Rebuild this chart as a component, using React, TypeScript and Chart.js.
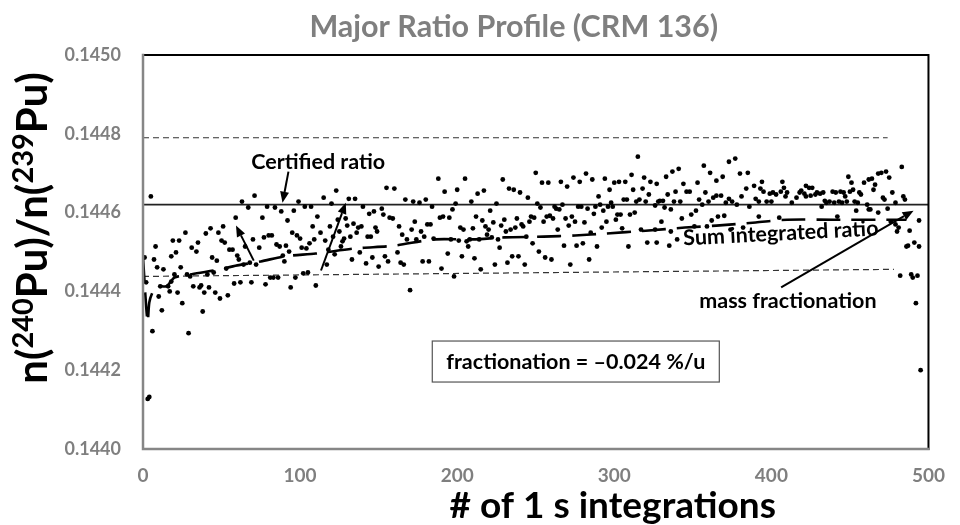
import { useEffect, useRef } from "react";
import { Chart, registerables } from "chart.js";

Chart.register(...registerables);

// ---- scatter data: # of 1 s integration vs n(240Pu)/n(239Pu) ----
const pointX: number[] = [
  1, 2, 3, 4, 5, 6, 7, 8, 9, 10, 11, 12, 13, 16, 17, 18, 18, 19, 20, 21, 22, 23, 24, 25, 27, 28, 29, 30, 31, 32,
  34, 35, 36, 37, 38, 39, 40, 41, 42, 43, 44, 45, 46, 47, 48, 49, 50, 51, 52, 53, 54, 55, 57, 58, 59, 60, 61, 62,
  63, 64, 65, 67, 68, 69, 70, 71, 72, 74, 76, 77, 78, 79, 80, 81, 82, 83, 84, 85, 86, 87, 88, 89, 90, 91, 92, 93,
  94, 95, 96, 97, 98, 99, 100, 101, 102, 103, 104, 105, 106, 107, 108, 109, 110, 111, 113, 115, 116, 117, 118,
  119, 120, 121, 122, 123, 124, 125, 126, 127, 128, 129, 130, 131, 132, 133, 134, 135, 136, 137, 138, 139, 140,
  142, 143, 144, 145, 146, 147, 148, 149, 150, 152, 153, 154, 155, 156, 157, 159, 160, 162, 163, 164, 165, 166,
  167, 168, 170, 171, 172, 173, 174, 176, 177, 178, 179, 180, 181, 182, 183, 184, 185, 188, 189, 190, 191, 192,
  194, 195, 196, 197, 198, 199, 200, 201, 202, 203, 204, 205, 206, 207, 208, 209, 210, 211, 212, 213, 214, 215,
  216, 217, 218, 219, 220, 221, 222, 223, 224, 225, 226, 227, 228, 229, 230, 231, 232, 233, 234, 235, 236, 237,
  238, 239, 240, 241, 242, 243, 244, 245, 246, 247, 248, 249, 250, 251, 252, 253, 254, 255, 256, 257, 258, 259,
  260, 261, 262, 263, 264, 265, 266, 267, 268, 269, 270, 271, 272, 273, 274, 275, 276, 277, 278, 279, 280, 281,
  282, 283, 284, 285, 286, 287, 288, 289, 290, 291, 292, 293, 294, 295, 296, 297, 298, 299, 300, 301, 302, 303,
  304, 305, 306, 307, 308, 309, 310, 311, 312, 313, 314, 315, 316, 317, 318, 319, 320, 321, 322, 323, 326, 326,
  327, 327, 328, 329, 330, 331, 332, 333, 334, 335, 336, 336, 337, 338, 339, 340, 341, 342, 343, 344, 346, 348,
  349, 351, 352, 353, 354, 356, 357, 358, 359, 360, 361, 362, 363, 365, 365, 366, 368, 369, 370, 371, 373, 373,
  374, 375, 377, 378, 380, 381, 382, 384, 385, 386, 389, 390, 392, 392, 393, 394, 395, 397, 399, 400, 401, 403,
  405, 406, 407, 408, 409, 410, 413, 416, 418, 419, 421, 422, 422, 424, 425, 426, 428, 429, 431, 432, 433, 434,
  435, 437, 439, 440, 441, 442, 443, 444, 445, 446, 447, 448, 449, 450, 451, 452, 453, 454, 455, 456, 457, 459,
  461, 462, 462, 463, 464, 465, 466, 468, 468, 470, 471, 472, 473, 474, 475, 476, 477, 479, 479, 480, 481, 482,
  483, 484, 485, 486, 487, 488, 489, 490, 491, 492, 493, 494, 494, 495,
];

const pointY: number[] = [
  0.144486, 0.144423, 0.144127, 0.144132, 0.144641, 0.144299, 0.144481, 0.144514, 0.144461, 0.144387, 0.144413,
  0.144352, 0.144456, 0.144413, 0.1444, 0.144489, 0.144425, 0.144529, 0.144443, 0.144499, 0.144397, 0.144529,
  0.144461, 0.14437, 0.144549, 0.144443, 0.144294, 0.144438, 0.144511, 0.144413,
  0.144501, 0.144524, 0.14441, 0.144415, 0.144349, 0.144397, 0.144547, 0.144443, 0.14441, 0.14456, 0.144486,
  0.144448, 0.144397, 0.144478, 0.144549, 0.144382, 0.144529, 0.144565, 0.144524, 0.144458, 0.14439, 0.144506,
  0.144506, 0.14442, 0.144587, 0.144491, 0.144481, 0.144423,
  0.144628, 0.144468, 0.144514, 0.144613, 0.144473, 0.144423, 0.144532, 0.144643, 0.144468, 0.144511, 0.144587,
  0.144537, 0.144418, 0.144615, 0.144542, 0.144435, 0.144542, 0.144435, 0.144613, 0.144519, 0.144435, 0.144514,
  0.144603, 0.144491, 0.144476, 0.144516, 0.14458, 0.144501,
  0.14441, 0.144549, 0.144605, 0.144435, 0.144542, 0.144628, 0.144534, 0.144511, 0.144446, 0.144615, 0.144509,
  0.144448, 0.144522, 0.144615, 0.144565, 0.144532, 0.144415, 0.14459, 0.144549, 0.144638, 0.144529, 0.144468,
  0.144506,
  0.144565, 0.144623, 0.144539, 0.144494, 0.144656, 0.144582, 0.144552, 0.144514, 0.144527, 0.144534, 0.144585,
  0.144567, 0.144635, 0.144539, 0.144481, 0.144572, 0.144635, 0.144549, 0.144562, 0.144499, 0.144565, 0.144615,
  0.144471, 0.144539, 0.144597, 0.144539, 0.144486, 0.144603, 0.144562, 0.144552, 0.144463, 0.14461, 0.144595,
  0.144489, 0.144663, 0.144476, 0.144587, 0.144585, 0.144661, 0.144499, 0.144565, 0.144473, 0.144544, 0.144468,
  0.144633, 0.144532, 0.144403, 0.144557, 0.144628, 0.144577, 0.144532, 0.144625, 0.144552, 0.144476, 0.144539,
  0.144633, 0.14457, 0.144476, 0.14457, 0.144615, 0.144534, 0.144686, 0.144587, 0.144458, 0.14459, 0.144653,
  0.144496, 0.144587, 0.144532, 0.144608, 0.144438, 0.144623, 0.144658, 0.144529, 0.144562, 0.144489, 0.144557,
  0.144686, 0.144527, 0.144514, 0.144532, 0.144628, 0.14456, 0.144484, 0.14459, 0.144648, 0.144532, 0.144456,
  0.14458, 0.144656, 0.144565, 0.144544, 0.144557, 0.144605, 0.144537, 0.144575, 0.144468, 0.144623, 0.144532,
  0.144511, 0.144567, 0.144684, 0.144582, 0.144552, 0.144473, 0.144661, 0.144557, 0.144489, 0.144658, 0.144562,
  0.144585, 0.144489, 0.144651, 0.14457, 0.144565, 0.144468, 0.144539, 0.144638, 0.144577, 0.14459, 0.144522,
  0.144587, 0.144701, 0.144623, 0.144501, 0.144613, 0.144676, 0.144577, 0.144486, 0.14459, 0.144676, 0.144592,
  0.144481, 0.144585, 0.144615, 0.14461, 0.144557, 0.144608, 0.144678, 0.14462, 0.144516, 0.144585, 0.144666,
  0.144567, 0.144468, 0.14459, 0.144689, 0.144577, 0.144516, 0.144615, 0.144678, 0.144615, 0.144522, 0.144575,
  0.144699, 0.14461, 0.144481, 0.144549, 0.144684, 0.144597, 0.144615, 0.144514, 0.144641, 0.14462, 0.144562,
  0.144605, 0.144686, 0.144577, 0.144615, 0.144658, 0.144625, 0.144615, 0.144676, 0.144582, 0.144595, 0.144678,
  0.144595, 0.14456, 0.144633, 0.144678, 0.144633, 0.144514, 0.144595, 0.144696, 0.144658, 0.1446, 0.144628,
  0.144742, 0.144633, 0.144557, 0.144661, 0.144689, 0.144628, 0.144524, 0.144646, 0.144678, 0.144618, 0.144557,
  0.144524, 0.144673, 0.144628, 0.14463, 0.144577, 0.14463, 0.144613, 0.144691, 0.144646, 0.144516, 0.144608,
  0.144552, 0.144704, 0.144628, 0.144653, 0.144532, 0.144711, 0.144628, 0.144585, 0.144673, 0.144653, 0.144653,
  0.144595, 0.144565, 0.144605, 0.144676, 0.144633, 0.14462, 0.144719, 0.144651, 0.144565, 0.144628, 0.144701,
  0.14458, 0.144638, 0.144681, 0.144643, 0.14459, 0.144643, 0.144691, 0.144592, 0.144625, 0.144729, 0.144635,
  0.144557, 0.144628, 0.144737, 0.14462, 0.144699, 0.144641, 0.144562, 0.144661, 0.144701, 0.144615, 0.144668,
  0.144635, 0.144628, 0.14459, 0.144661, 0.144678, 0.144653, 0.144628, 0.144648, 0.144628, 0.144651, 0.144646,
  0.144587, 0.144653, 0.144678, 0.144663, 0.144641, 0.144651, 0.144625, 0.144638, 0.144651, 0.144656, 0.144648,
  0.144668, 0.144641, 0.144663, 0.144643, 0.144663, 0.144646, 0.144651, 0.144648, 0.144615, 0.144651, 0.14463,
  0.144625, 0.144628, 0.144653, 0.144625, 0.144651, 0.14459, 0.144628, 0.144653, 0.144625, 0.144651, 0.144641,
  0.144628, 0.144691, 0.144653, 0.144676, 0.144658, 0.144628, 0.144605, 0.144625, 0.144651, 0.144646, 0.144676,
  0.14462, 0.144684, 0.144608, 0.144608, 0.144686, 0.144658, 0.144671, 0.144699, 0.1446, 0.144701, 0.144638,
  0.144633, 0.144704, 0.14461, 0.144689, 0.144577, 0.144651, 0.144625, 0.14457, 0.144552, 0.144562, 0.14444,
  0.144716, 0.144641, 0.144633, 0.144514, 0.144516, 0.144554, 0.144443, 0.144435, 0.144524, 0.14437, 0.14444,
  0.144514, 0.14458, 0.1442,
];

// ---- "Sum integrated ratio" running line ----
const sumX: number[] = [0, 1, 2, 3, 4, 6, 9, 15, 20, 30, 45, 60, 75, 90, 110, 135, 160, 185, 210, 230, 255, 275, 295, 320, 345, 365, 390, 410, 440, 470, 486];
const sumY: number[] = [
  0.144486, 0.144423, 0.144362, 0.144322, 0.144372, 0.144397, 0.144413, 0.144413, 0.144435, 0.144443, 0.144453,
  0.144466, 0.144476, 0.144489, 0.144496, 0.144509, 0.144516, 0.144532, 0.144532, 0.144537, 0.144539, 0.144542,
  0.144547, 0.144554, 0.144562, 0.144567, 0.144575, 0.144582, 0.144582, 0.144582, 0.144582,
];

// ---- reference lines ----
const certifiedX: number[] = [0, 500];
const certifiedY: number[] = [0.14462, 0.14462];
const upperX: number[] = [0, 474];
const upperY: number[] = [0.14479, 0.14479];
const lowerX: number[] = [0, 478];
const lowerY: number[] = [0.144438, 0.144456];

// ---- axes ----
const xTicks: number[] = [0, 100, 200, 300, 400, 500];
const yTicks: number[] = [0.144, 0.1442, 0.1444, 0.1446, 0.1448, 0.145];

// ---- annotations (data units) ----
const arrows = [
  { x0: 92.6, y0: 0.144704, x1: 88.8, y1: 0.144625 },
  { x0: 70.5, y0: 0.144478, x1: 59.2, y1: 0.144567 },
  { x0: 113.3, y0: 0.144453, x1: 129.1, y1: 0.144625 },
  { x0: 406.2, y0: 0.14441, x1: 490.5, y1: 0.144605 },
];
const notes = [
  { text: "Certified ratio", x: 111.5, y: 0.144727, angle: 0 },
  { text: "Sum integrated ratio", x: 406, y: 0.144547, angle: -2.9 },
  { text: "mass fractionation", x: 410.5, y: 0.144375, angle: 0 },
];
const boxNote = { text: "fractionation = \u20130.024 %/u", x: 275.5, y: 0.144222 };

const TITLE = "Major Ratio Profile (CRM 136)";
const X_TITLE = "# of 1 s integrations";
const FONT = "Lato, 'Open Sans', 'DejaVu Sans', sans-serif";

const toXY = (xa: number[], ya: number[]) => xa.map((x, i) => ({ x, y: ya[i] }));

function drawArrow(ctx: CanvasRenderingContext2D, x0: number, y0: number, x1: number, y1: number) {
  const ang = Math.atan2(y1 - y0, x1 - x0);
  const L = 11;
  const W = 4.5;
  const bx = x1 - L * Math.cos(ang);
  const by = y1 - L * Math.sin(ang);
  ctx.beginPath();
  ctx.moveTo(x0, y0);
  ctx.lineTo(bx, by);
  ctx.lineWidth = 2;
  ctx.strokeStyle = "#000";
  ctx.stroke();
  ctx.beginPath();
  ctx.moveTo(x1, y1);
  ctx.lineTo(bx + W * Math.sin(ang), by - W * Math.cos(ang));
  ctx.lineTo(bx - W * Math.sin(ang), by + W * Math.cos(ang));
  ctx.closePath();
  ctx.fillStyle = "#000";
  ctx.fill();
}

const overlayPlugin = {
  id: "overlay",
  afterDatasetsDraw(chart: any) {
    const { ctx, chartArea: a, scales } = chart;
    const X = (v: number) => scales.x.getPixelForValue(v);
    const Y = (v: number) => scales.y.getPixelForValue(v);
    ctx.save();
    // frame
    ctx.lineCap = "square";
    ctx.strokeStyle = "#000";
    ctx.lineWidth = 2;
    ctx.beginPath();
    ctx.moveTo(a.left, a.top);
    ctx.lineTo(a.right, a.top);
    ctx.lineTo(a.right, a.bottom);
    ctx.stroke();
    ctx.strokeStyle = "#868686";
    ctx.lineWidth = 2.5;
    ctx.beginPath();
    ctx.moveTo(a.left, a.top);
    ctx.lineTo(a.left, a.bottom);
    ctx.lineTo(a.right, a.bottom);
    ctx.stroke();
    ctx.lineCap = "butt";

    for (const ar of arrows) drawArrow(ctx, X(ar.x0), Y(ar.y0), X(ar.x1), Y(ar.y1));

    ctx.fillStyle = "#000";
    ctx.textAlign = "center";
    ctx.textBaseline = "middle";
    ctx.font = `bold 21.5px ${FONT}`;
    for (const n of notes) {
      ctx.save();
      ctx.translate(X(n.x), Y(n.y));
      ctx.rotate((n.angle * Math.PI) / 180);
      ctx.fillText(n.text, 0, 0);
      ctx.restore();
    }

    // box note
    ctx.font = `bold 21.5px ${FONT}`;
    const bx = X(boxNote.x);
    const by = Y(boxNote.y);
    const w = ctx.measureText(boxNote.text).width + 28;
    const h = 41;
    ctx.fillStyle = "#fff";
    ctx.fillRect(bx - w / 2, by - h / 2, w, h);
    ctx.strokeStyle = "#555";
    ctx.lineWidth = 1.2;
    ctx.strokeRect(bx - w / 2, by - h / 2, w, h);
    ctx.fillStyle = "#000";
    ctx.fillText(boxNote.text, bx, by + 1);
    ctx.restore();
  },
  afterDraw(chart: any) {
    const { ctx, chartArea: a } = chart;
    const aw = a.right - a.left;
    ctx.save();
    ctx.textAlign = "center";
    ctx.textBaseline = "middle";
    // chart title
    ctx.fillStyle = "#7f7f7f";
    ctx.font = `bold 30.5px ${FONT}`;
    ctx.fillText(TITLE, a.left + aw * 0.472, 27);
    // x title
    ctx.fillStyle = "#000";
    ctx.font = `bold 37px ${FONT}`;
    ctx.fillText(X_TITLE, a.left + aw * 0.598, 506);
    // y title with superscripts
    const parts: [string, boolean][] = [
      ["n(", false],
      ["240", true],
      ["Pu)/n(", false],
      ["239", true],
      ["Pu)", false],
    ];
    const big = `bold 42px ${FONT}`;
    const small = `bold 29px ${FONT}`;
    let total = 0;
    for (const [t, s] of parts) {
      ctx.font = s ? small : big;
      total += ctx.measureText(t).width;
    }
    ctx.translate(33, 228);
    ctx.rotate(-Math.PI / 2);
    ctx.textAlign = "left";
    ctx.textBaseline = "alphabetic";
    let cx = -total / 2;
    for (const [t, s] of parts) {
      ctx.font = s ? small : big;
      ctx.fillText(t, cx, s ? 0 : 14);
      cx += ctx.measureText(t).width;
    }
    ctx.restore();
  },
};

export default function App() {
  const ref = useRef<HTMLCanvasElement | null>(null);

  useEffect(() => {
    document.body.style.margin = "0";
    const canvas = ref.current;
    if (!canvas) return;
    const chart = new Chart(canvas, {
      type: "scatter",
      data: {
        datasets: [
          {
            label: "points",
            data: toXY(pointX, pointY),
            pointRadius: 2.4,
            pointHoverRadius: 2.4,
            backgroundColor: "#000",
            borderWidth: 0,
            showLine: false,
          },
          {
            label: "Sum integrated ratio",
            data: toXY(sumX, sumY),
            showLine: true,
            pointRadius: 0,
            borderColor: "#000",
            borderWidth: 2.6,
            borderDash: [24, 11],
            tension: 0.25,
          },
          {
            label: "Certified ratio",
            data: toXY(certifiedX, certifiedY),
            showLine: true,
            pointRadius: 0,
            borderColor: "#222",
            borderWidth: 1.8,
          },
          {
            label: "upper",
            data: toXY(upperX, upperY),
            showLine: true,
            pointRadius: 0,
            borderColor: "#333",
            borderWidth: 1.2,
            borderDash: [6, 4],
          },
          {
            label: "lower",
            data: toXY(lowerX, lowerY),
            showLine: true,
            pointRadius: 0,
            borderColor: "#333",
            borderWidth: 1.2,
            borderDash: [6, 4],
          },
        ],
      },
      options: {
        animation: false,
        responsive: false,
        events: [],
        layout: { padding: { top: 55, right: 22, left: 0, bottom: 0 } },
        plugins: {
          legend: { display: false },
          tooltip: { enabled: false },
          title: { display: false },
        },
        scales: {
          x: {
            type: "linear",
            min: 0,
            max: 500,
            afterFit: (s: any) => {
              s.height = 76;
            },
            afterBuildTicks: (s: any) => {
              s.ticks = xTicks.map((v) => ({ value: v }));
            },
            grid: { display: false, drawTicks: false },
            border: { display: false },
            ticks: {
              padding: 15,
              color: "#7f7f7f",
              font: { family: FONT, size: 19, weight: "bold" },
              callback: (v: any) => String(v),
            },
          },
          y: {
            type: "linear",
            min: 0.144,
            max: 0.145,
            afterFit: (s: any) => {
              s.width = 143;
            },
            afterBuildTicks: (s: any) => {
              s.ticks = yTicks.map((v) => ({ value: v }));
            },
            grid: { display: false, drawTicks: false },
            border: { display: false },
            ticks: {
              padding: 22,
              color: "#7f7f7f",
              font: { family: FONT, size: 18, weight: "bold" },
              callback: (v: any) => Number(v).toFixed(4),
            },
          },
        },
      },
      plugins: [overlayPlugin],
    });
    return () => chart.destroy();
  }, []);

  return (
    <div style={{ width: 960, height: 525, background: "#fff" }}>
      <canvas ref={ref} width={960} height={525} style={{ display: "block" }} />
    </div>
  );
}
